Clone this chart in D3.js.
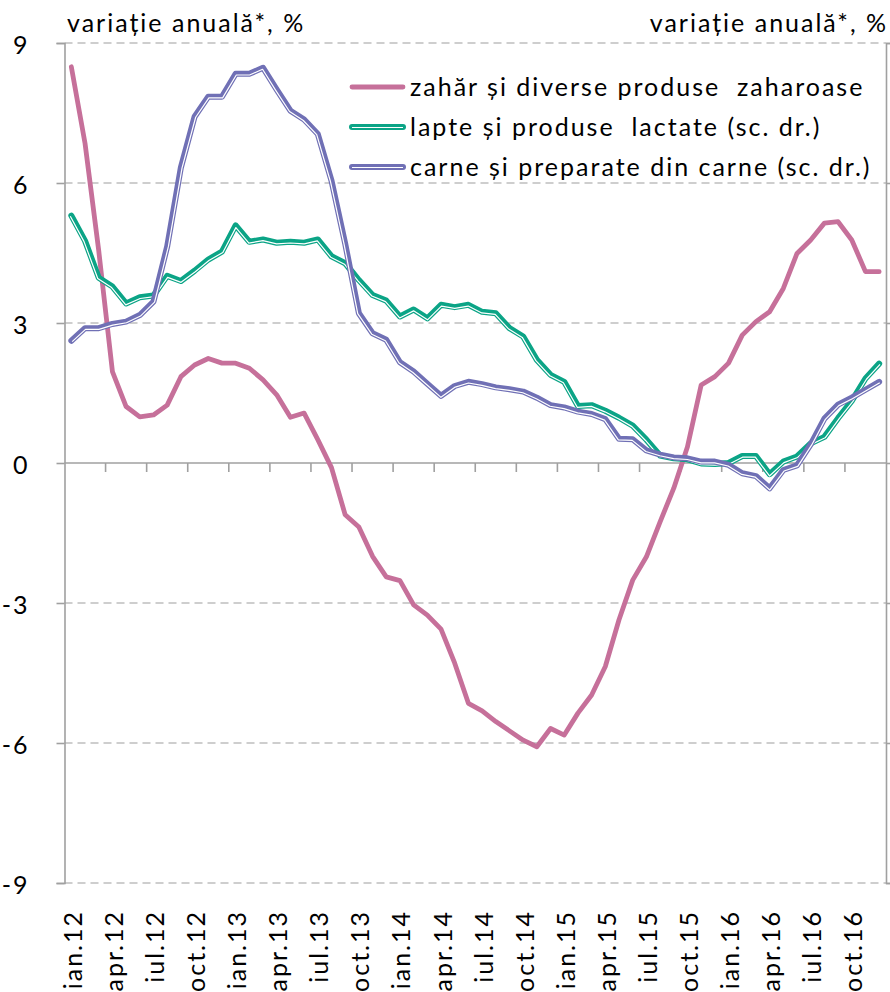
<!DOCTYPE html>
<html>
<head>
<meta charset="utf-8">
<script src="https://cdn.jsdelivr.net/npm/d3@7"></script>
<style>
  body { margin: 0; background: #fff; }
  svg { display: block; font-family: Lato, "Open Sans", sans-serif; }
</style>
</head>
<body>
<svg id="chart" width="890" height="992"></svg>
<script>
// luni si ani (axa x)
const monthNames = ["ian", "feb", "mar", "apr", "mai", "iun", "iul", "aug", "sep", "oct", "noi", "dec"];
const years = ["12", "13", "14", "15", "16"];
const yTicks = [-9, -6, -3, 0, 3, 6, 9];

// zahar si diverse produse zaharoase (sc. stg.)
const zahar = [8.49, 6.85, 4.55, 1.96, 1.21, 0.99, 1.03, 1.24, 1.85, 2.1, 2.24, 2.14,
  2.14, 2.03, 1.78, 1.46, 0.98, 1.07, 0.5, -0.1, -1.11, -1.37, -2.0, -2.44,
  -2.52, -3.04, -3.26, -3.56, -4.29, -5.15, -5.31, -5.54, -5.74, -5.94, -6.08, -5.69,
  -5.83, -5.36, -4.97, -4.36, -3.36, -2.51, -2.01, -1.26, -0.54, 0.35, 1.67, 1.85,
  2.14, 2.74, 3.03, 3.24, 3.74, 4.49, 4.78, 5.14, 5.17, 4.78, 4.1, 4.1];

// lapte si produse lactate (sc. dr.)
const lapte = [5.3, 4.76, 3.97, 3.78, 3.42, 3.55, 3.59, 4.01, 3.9, 4.12, 4.36, 4.53,
  5.09, 4.74, 4.79, 4.72, 4.74, 4.72, 4.79, 4.43, 4.28, 3.92, 3.6, 3.48,
  3.14, 3.29, 3.1, 3.39, 3.34, 3.39, 3.24, 3.21, 2.89, 2.71, 2.21, 1.89,
  1.74, 1.22, 1.24, 1.12, 0.97, 0.8, 0.5, 0.16, 0.1, 0.08, -0.01, -0.02,
  0.0, 0.15, 0.15, -0.24, 0.03, 0.14, 0.42, 0.56, 0.96, 1.33, 1.81, 2.13];

// carne si preparate din carne (sc. dr.)
const carne = [2.62, 2.89, 2.89, 2.98, 3.03, 3.17, 3.46, 4.64, 6.33, 7.42, 7.85, 7.85,
  8.34, 8.34, 8.47, 8.0, 7.55, 7.36, 7.05, 6.05, 4.7, 3.21, 2.78, 2.64,
  2.16, 1.96, 1.7, 1.44, 1.65, 1.74, 1.69, 1.62, 1.58, 1.53, 1.4, 1.24,
  1.19, 1.1, 1.05, 0.94, 0.52, 0.51, 0.27, 0.18, 0.12, 0.1, 0.03, 0.03,
  -0.04, -0.22, -0.28, -0.54, -0.15, -0.05, 0.4, 0.95, 1.25, 1.4, 1.57, 1.74];

const seriesNames = ["zahăr și diverse produse  zaharoase", "lapte și produse  lactate (sc. dr.)", "carne și preparate din carne (sc. dr.)"];
const axisTitle = "variație anuală*, %";

const categories = [];
years.forEach(yy => monthNames.forEach(m => categories.push(m + "." + yy)));

const series = [
  {name: seriesNames[0], values: zahar, color: "#C6709A", width: 4.8, inner: false},
  {name: seriesNames[1], values: lapte, color: "#0BA486", width: 6, inner: true},
  {name: seriesNames[2], values: carne, color: "#7070B5", width: 6, inner: true}
];

const plotLeft = 64.5, plotRight = 886, plotTop = 43, plotBottom = 883;
const fontSize = 25;
const ls = 2.0; // spatiere litere ca in Excel

const svg = d3.select("#chart");

const x = d3.scaleBand().domain(categories).range([plotLeft, plotRight]).padding(0);
const y = d3.scaleLinear().domain([-9, 9]).range([plotBottom, plotTop]);

// grid
svg.append("g")
  .selectAll("line")
  .data(yTicks.filter(d => d !== 0))
  .join("line")
    .attr("x1", plotLeft).attr("x2", plotRight)
    .attr("y1", d => y(d)).attr("y2", d => y(d))
    .attr("stroke", "#BEBEBE")
    .attr("stroke-width", 1.6)
    .attr("stroke-dasharray", "8,5");

// axa stanga
const yAxis = svg.append("g")
  .attr("transform", `translate(${plotLeft},0)`)
  .call(d3.axisLeft(y).tickValues(yTicks).tickSize(8).tickPadding(29 - ls).tickFormat(d3.format("d")));
yAxis.select(".domain").attr("stroke", "#A0A0A0").attr("stroke-width", 1.6);
yAxis.selectAll(".tick line").attr("stroke", "#A0A0A0").attr("stroke-width", 1.6);
yAxis.selectAll(".tick text")
  .attr("font-size", fontSize).attr("font-family", "Lato, 'Open Sans', sans-serif")
  .attr("letter-spacing", ls)
  .attr("fill", "#000").attr("dy", "0.4em")
  .text(d => d < 0 ? "-" + Math.abs(d) : d);

// axa dreapta (fara etichete)
const yAxisR = svg.append("g")
  .attr("transform", `translate(${plotRight},0)`)
  .call(d3.axisRight(y).tickValues(yTicks).tickSize(6).tickFormat(""));
yAxisR.select(".domain").attr("stroke", "#A0A0A0").attr("stroke-width", 1.6);
yAxisR.selectAll(".tick line").attr("stroke", "#A0A0A0").attr("stroke-width", 1.6);

// axa x la zero
const quarterly = categories.filter((c, i) => i % 3 === 0);
const xAxis = svg.append("g")
  .attr("transform", `translate(0,${y(0)})`);
xAxis.append("line")
  .attr("x1", plotLeft).attr("x2", plotRight)
  .attr("stroke", "#A0A0A0").attr("stroke-width", 1.6);
xAxis.selectAll("line.tk")
  .data(quarterly.slice(1))
  .join("line")
    .attr("class", "tk")
    .attr("x1", d => x(d)).attr("x2", d => x(d))
    .attr("y1", 0).attr("y2", 9)
    .attr("stroke", "#A0A0A0").attr("stroke-width", 1.6);

// etichete luni
svg.append("g")
  .selectAll("text")
  .data(quarterly)
  .join("text")
    .attr("transform", d => `translate(${x(d) + x.bandwidth() / 2 + 1.5},${plotBottom + 25 + ls}) rotate(-90)`)
    .attr("text-anchor", "end")
    .attr("dy", "0.36em")
    .attr("font-size", fontSize)
    .attr("letter-spacing", ls)
    .text(d => d);

// titluri axe
svg.append("text").attr("x", 67).attr("y", 32)
  .attr("font-size", fontSize).attr("letter-spacing", ls).text(axisTitle);
svg.append("text").attr("x", 886 + ls).attr("y", 32).attr("text-anchor", "end")
  .attr("font-size", fontSize).attr("letter-spacing", ls).text(axisTitle);

// linie alba interioara decalata (stil dublu din Excel)
function offsetPoints(pts, d) {
  const n = pts.length;
  const normals = [];
  for (let i = 0; i < n - 1; i++) {
    const dx = pts[i + 1][0] - pts[i][0], dy = pts[i + 1][1] - pts[i][1];
    const len = Math.hypot(dx, dy) || 1;
    normals.push([-dy / len, dx / len]);
  }
  return pts.map((p, i) => {
    const a = normals[Math.max(0, i - 1)], b = normals[Math.min(n - 2, i)];
    let mx = a[0] + b[0], my = a[1] + b[1];
    const ml = Math.hypot(mx, my) || 1;
    mx /= ml; my /= ml;
    let k = 1 / Math.max(0.4, mx * b[0] + my * b[1]);
    return [p[0] + mx * d * k, p[1] + my * d * k];
  });
}

const line = d3.line();
const cx = i => x(categories[i]) + x.bandwidth() / 2;

const lines = svg.append("g");
series.forEach(s => {
  const pts = s.values.map((v, i) => [cx(i), y(v)]);
  lines.append("path")
    .attr("d", line(pts))
    .attr("fill", "none")
    .attr("stroke", s.color)
    .attr("stroke-width", s.width)
    .attr("stroke-linejoin", "round")
    .attr("stroke-linecap", "round");
  if (s.inner) {
    lines.append("path")
      .attr("d", line(offsetPoints(pts, 1.2)))
      .attr("fill", "none")
      .attr("stroke", "#fff")
      .attr("stroke-width", 1.2)
      .attr("stroke-linejoin", "round");
  }
});

// legenda
const legend = svg.append("g");
const legendY = [87, 127, 167];
series.forEach((s, i) => {
  const g = legend.append("g").attr("transform", `translate(0,${legendY[i]})`);
  g.append("line")
    .attr("x1", 352).attr("x2", 403)
    .attr("stroke", s.color).attr("stroke-width", s.width)
    .attr("stroke-linecap", "round");
  if (s.inner) {
    g.append("line")
      .attr("x1", 352).attr("x2", 403).attr("y1", 0.5).attr("y2", 0.5)
      .attr("stroke", "#fff").attr("stroke-width", 1.2);
  }
  g.append("text")
    .attr("x", 410).attr("dy", "0.36em")
    .attr("font-size", fontSize)
    .attr("letter-spacing", ls)
    .attr("xml:space", "preserve")
    .text(s.name);
});
</script>
</body>
</html>
